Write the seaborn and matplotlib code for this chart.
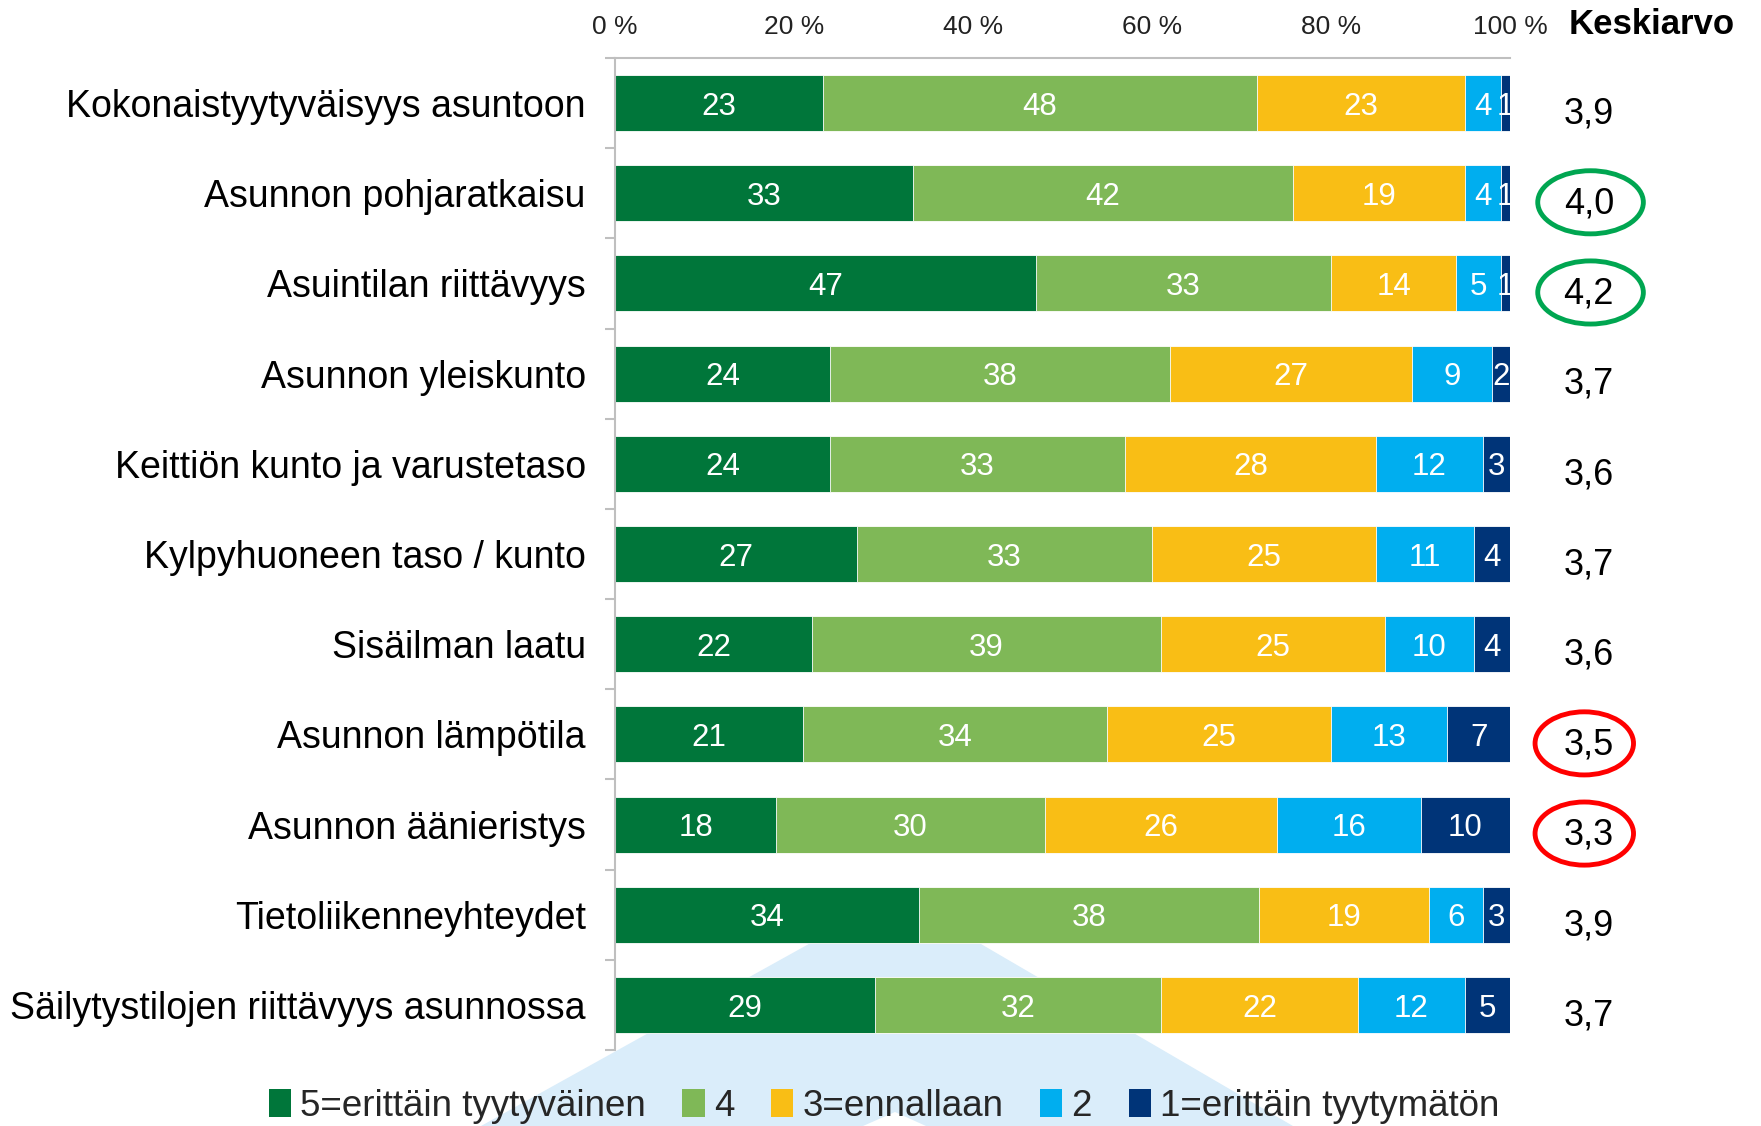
import numpy as np
import pandas as pd
import matplotlib
matplotlib.use("Agg")
import matplotlib.pyplot as plt
import seaborn as sns
from matplotlib.patches import Ellipse, Polygon, Patch

categories = [
    "Kokonaistyytyväisyys asuntoon",
    "Asunnon pohjaratkaisu",
    "Asuintilan riittävyys",
    "Asunnon yleiskunto",
    "Keittiön kunto ja varustetaso",
    "Kylpyhuoneen taso / kunto",
    "Sisäilman laatu",
    "Asunnon lämpötila",
    "Asunnon äänieristys",
    "Tietoliikenneyhteydet",
    "Säilytystilojen riittävyys asunnossa",
]
v5 = [23, 33, 47, 24, 24, 27, 22, 21, 18, 34, 29]
v4 = [48, 42, 33, 38, 33, 33, 39, 34, 30, 38, 32]
v3 = [23, 19, 14, 27, 28, 25, 25, 25, 26, 19, 22]
v2 = [4, 4, 5, 9, 12, 11, 10, 13, 16, 6, 12]
v1 = [1, 1, 1, 2, 3, 4, 4, 7, 10, 3, 5]
means = ["3,9", "4,0", "4,2", "3,7", "3,6", "3,7", "3,6", "3,5", "3,3", "3,9", "3,7"]
highlight = [None, "green", "green", None, None, None, None, "red", "red", None, None]
levels = ["5=erittäin tyytyväinen", "4", "3=ennallaan", "2", "1=erittäin tyytymätön"]
colors = ["#00763A", "#7FB857", "#F9BE15", "#00AEEF", "#003478"]
xticks = [0, 20, 40, 60, 80, 100]

sns.set_theme(style="white")
plt.rcParams["font.family"] = ["Liberation Sans", "DejaVu Sans"]

W, H = 1761, 1126
fig = plt.figure(figsize=(W / 100, H / 100), dpi=100)

# light-blue callout shape behind the chart
tri = [(897, 895), (1293, 1126), (481, 1126)]
fig.add_artist(Polygon([(x / W, 1 - y / H) for x, y in tri], closed=True,
                       transform=fig.transFigure, facecolor="#DAEDFA",
                       edgecolor="none", zorder=-2))
notch = [(863, 1126), (926, 1126), (895, 1112)]
fig.add_artist(Polygon([(x / W, 1 - y / H) for x, y in notch], closed=True,
                       transform=fig.transFigure, facecolor="white",
                       edgecolor="none", zorder=-1))

ax = fig.add_axes([615 / W, 1 - 1050 / H, (1510 - 615) / W, (1050 - 58) / H])
ax.set_facecolor("none")

df = pd.DataFrame({"cat": categories, levels[0]: v5, levels[1]: v4,
                   levels[2]: v3, levels[3]: v2, levels[4]: v1})
vals = df[levels]
pct = vals.div(vals.sum(axis=1), axis=0) * 100
cum = pct.cumsum(axis=1)

for i in reversed(range(len(levels))):
    sns.barplot(x=cum[levels[i]], y=df["cat"], color=colors[i], orient="h",
                width=0.62, saturation=1, edgecolor="white", linewidth=0.6,
                ax=ax)

for r in range(len(categories)):
    for i, lev in enumerate(levels):
        cx = cum[lev].iloc[r] - pct[lev].iloc[r] / 2
        ax.text(cx, r + 0.04, str(vals[lev].iloc[r]), ha="center", va="center",
                color="white", fontsize=22.5)
    ax.text(108.8, r + 0.12, means[r], ha="center", va="center",
            fontsize=26, color="black", clip_on=False)
    if highlight[r] == "green":
        ax.add_patch(Ellipse((109.0, r + 0.10), 11.8, 0.70, fill=False,
                             edgecolor="#00A651", linewidth=3.5, clip_on=False))
    elif highlight[r] == "red":
        ax.add_patch(Ellipse((108.3, r + 0.10), 11.0, 0.70, fill=False,
                             edgecolor="#FF0000", linewidth=3.5, clip_on=False))

ax.text(115.8, -0.874, "Keskiarvo", ha="center", va="center", fontsize=25,
        fontweight="bold", color="black", clip_on=False)

ax.set_xlim(0, 100)
ax.set_ylim(len(categories) - 0.5, -0.5)
ax.set_xlabel("")
ax.set_ylabel("")
ax.xaxis.tick_top()
ax.set_xticks(xticks)
ax.set_xticklabels([f"{t} %" for t in xticks])
ax.tick_params(axis="x", which="both", length=0, pad=14, labelsize=19,
               labelcolor="#222222")
ax.tick_params(axis="y", which="major", length=0, pad=21, labelsize=27,
               labelcolor="black")
ax.set_yticks(np.arange(-0.5, len(categories), 1), minor=True)
ax.tick_params(axis="y", which="minor", length=7, width=1.5, color="#BFBFBF",
               left=True)
for s in ["right", "bottom"]:
    ax.spines[s].set_visible(False)
for s in ["left", "top"]:
    ax.spines[s].set_color("#BFBFBF")
    ax.spines[s].set_linewidth(1.5)
ax.grid(False)

handles = [Patch(facecolor=c, edgecolor="none") for c in colors]
fig.legend(handles, levels, loc="center", bbox_to_anchor=(0.502, 1 - 1106 / H),
           ncol=5, frameon=False, fontsize=26.5, handlelength=0.6,
           handleheight=0.8, handletextpad=0.25, columnspacing=1.0)

fig.savefig("out.png", dpi=100)
